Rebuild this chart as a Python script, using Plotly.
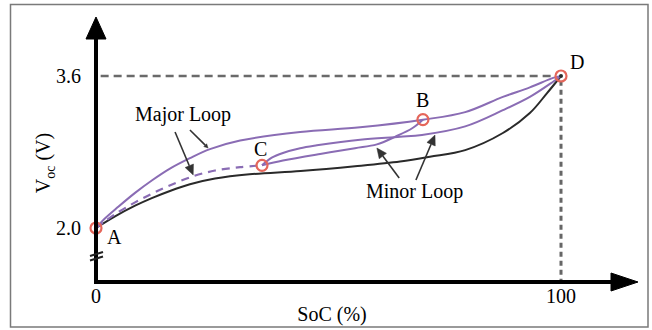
import math
import plotly.graph_objects as go

# ---------------- data (SoC in %, voltage in V) ----------------
black_soc = [0, 4, 8.4, 12, 15.9, 20.2, 25.6, 33, 44, 55.7, 65.4, 71.8, 79.4, 87.5, 93.3, 97, 100]
black_v = [2.00, 2.12, 2.235, 2.315, 2.39, 2.46, 2.52, 2.565, 2.60, 2.65, 2.70, 2.75, 2.82, 3.00, 3.21, 3.42, 3.60]

major_soc = [0, 1.9, 4.7, 8.4, 12, 15.9, 20.2, 24.5, 31, 43.9, 56.8, 70.3, 79.4, 87.5, 93.3, 98.3, 100]
major_v = [2.00, 2.10, 2.22, 2.37, 2.50, 2.625, 2.735, 2.83, 2.92, 3.01, 3.06, 3.14, 3.22, 3.38, 3.48, 3.58, 3.60]

dash_soc = [0, 4.1, 8.4, 12, 15.5, 20.6, 25.6, 31, 35.7]
dash_v = [2.00, 2.145, 2.27, 2.36, 2.44, 2.54, 2.605, 2.64, 2.66]

cd_soc = [35.7, 37.8, 40.2, 43.9, 47.5, 56.8, 65.4, 70.1, 79.4, 87.5, 93.3, 98.3, 100]
cd_v = [2.66, 2.74, 2.79, 2.84, 2.87, 2.93, 2.96, 2.98, 3.07, 3.24, 3.38, 3.54, 3.60]

cb_soc = [35.7, 40.2, 48.2, 55.7, 60.4, 64.3, 68, 70.3]
cb_v = [2.66, 2.71, 2.78, 2.84, 2.88, 2.96, 3.05, 3.14]

point_names = ["A", "B", "C", "D"]
point_soc = [0, 70.3, 35.7, 100]
point_v = [2.0, 3.14, 2.66, 3.6]

x_tick_vals = [0, 100]
x_tick_text = ["0", "100"]
y_tick_vals = [2.0, 3.6]
y_tick_text = ["2.0", "3.6"]

# ---------------- figure ----------------
W, H = 652, 330
ML, MR, MT, MB = 96, 84, 44, 48
PW, PH = W - ML - MR, H - MT - MB
XS, YS = 4.65, 95.0          # pixels per % SoC, pixels per volt
XR = [0, PW / XS]
YR = [2.0 - (MT + PH - 228) / YS, 2.0 + (228 - MT) / YS]


def px(xp):
    return (xp - ML) / PW


def py(yp):
    return (MT + PH - yp) / PH


FONT = "Liberation Serif"
PURPLE = "#8a6cb4"
DARK = "#2a2a2a"
RED = "#e5665a"

fig = go.Figure()

fig.add_trace(go.Scatter(x=black_soc, y=black_v, mode="lines",
                         line=dict(color=DARK, width=2, shape="spline"), hoverinfo="skip"))
fig.add_trace(go.Scatter(x=major_soc, y=major_v, mode="lines",
                         line=dict(color=PURPLE, width=2, shape="spline"), hoverinfo="skip"))
fig.add_trace(go.Scatter(x=dash_soc, y=dash_v, mode="lines",
                         line=dict(color=PURPLE, width=2.2, shape="spline", dash="8px,6px"),
                         hoverinfo="skip"))
fig.add_trace(go.Scatter(x=cd_soc, y=cd_v, mode="lines",
                         line=dict(color=PURPLE, width=2, shape="spline"), hoverinfo="skip"))
fig.add_trace(go.Scatter(x=cb_soc, y=cb_v, mode="lines",
                         line=dict(color=PURPLE, width=2, shape="spline"), hoverinfo="skip"))

# reference dashed lines (3.6 V level and 100 % SoC)
fig.add_trace(go.Scatter(x=[1, 98.5], y=[3.6, 3.6], mode="lines",
                         line=dict(color="#6a6a6a", width=2.5, dash="8px,5px"),
                         hoverinfo="skip", cliponaxis=False))
fig.add_trace(go.Scatter(x=[100, 100], y=[3.55, YR[0]], mode="lines",
                         line=dict(color="#666666", width=3, dash="5px,4px"),
                         hoverinfo="skip", cliponaxis=False))

# key points
fig.add_trace(go.Scatter(x=point_soc, y=point_v, mode="markers",
                         marker=dict(symbol="circle-open", size=11, color=RED,
                                     line=dict(width=2.2, color=RED)),
                         cliponaxis=False, hoverinfo="skip"))
fig.add_trace(go.Scatter(x=point_soc[3:], y=point_v[3:], mode="markers",
                         marker=dict(symbol="circle", size=4, color=DARK),
                         cliponaxis=False, hoverinfo="skip"))

shapes = []
# outer frame
shapes.append(dict(type="rect", xref="paper", yref="paper",
                   x0=px(10.5), x1=px(648), y0=py(4.5), y1=py(327),
                   line=dict(color="#7a7a7a", width=1.5)))
# axes
shapes.append(dict(type="line", xref="paper", yref="paper",
                   x0=px(96), x1=px(96), y0=py(284), y1=py(36),
                   line=dict(color="black", width=4)))
shapes.append(dict(type="line", xref="paper", yref="paper",
                   x0=px(94), x1=px(613), y0=py(282), y1=py(282),
                   line=dict(color="black", width=4)))
shapes.append(dict(type="path", xref="paper", yref="paper",
                   path=f"M {px(86)},{py(39)} L {px(106)},{py(39)} L {px(96)},{py(17)} Z",
                   fillcolor="black", line=dict(color="black", width=1)))
shapes.append(dict(type="path", xref="paper", yref="paper",
                   path=f"M {px(611)},{py(273)} L {px(611)},{py(291)} L {px(638)},{py(282)} Z",
                   fillcolor="black", line=dict(color="black", width=1)))
# axis break marks
shapes.append(dict(type="line", xref="paper", yref="paper",
                   x0=px(90), x1=px(103), y0=py(256), y1=py(252),
                   line=dict(color="#222", width=2)))
shapes.append(dict(type="line", xref="paper", yref="paper",
                   x0=px(90), x1=px(103), y0=py(260.5), y1=py(256.5),
                   line=dict(color="#222", width=2)))


def pointer(x0, y0, x1, y1, head_len=10.0, head_w=4.5, color="#333333"):
    """Line from (x0,y0) to the tip (x1,y1) in data units, with a filled head."""
    dxp, dyp = (x1 - x0) * XS, (y1 - y0) * YS
    L = math.hypot(dxp, dyp)
    ux, uy = dxp / L, dyp / L
    bx, by = x1 - ux * head_len / XS, y1 - uy * head_len / YS
    nx, ny = -uy * head_w, ux * head_w
    out = [dict(type="line", xref="x", yref="y", x0=x0, y0=y0, x1=bx, y1=by,
                line=dict(color=color, width=1.6))]
    if head_len > 0:
        out.append(dict(type="path", xref="x", yref="y",
                        path=(f"M {x1},{y1} L {bx + nx / XS},{by + ny / YS} "
                              f"L {bx - nx / XS},{by - ny / YS} Z"),
                        fillcolor=color, line=dict(color=color, width=0.5)))
    return out


# Major loop pointers
shapes += pointer(17.0, 3.011, 20.9, 2.558)
shapes += pointer(20.2, 3.032, 24.1, 2.842, head_len=4, head_w=2)
# Minor loop pointers
shapes += pointer(65.2, 2.526, 60.4, 2.842)
shapes += pointer(68.8, 2.505, 72.9, 2.979)

annotations = []
tf = dict(family=FONT, size=20, color="black")
# point labels, offset in pixels from the points
label_shift = {"A": (18, -9), "B": (0, 20), "C": (-2, 16), "D": (16, 14)}
for name, xs, ys in zip(point_names, point_soc, point_v):
    dx, dy = label_shift[name]
    annotations.append(dict(x=xs, y=ys, xref="x", yref="y", text=name,
                            xshift=dx, yshift=dy, showarrow=False, font=tf))

annotations.append(dict(x=18.8, y=3.2, xref="x", yref="y", text="Major Loop",
                        showarrow=False, font=tf))
annotations.append(dict(x=68.6, y=2.38, xref="x", yref="y", text="Minor Loop",
                        showarrow=False, font=tf))

y_title = ("V<span style='font-size:14px;baseline-shift:-5px'>oc</span> (V)")

fig.update_layout(
    width=W, height=H,
    margin=dict(l=ML, r=MR, t=MT, b=MB, pad=0),
    paper_bgcolor="white", plot_bgcolor="white",
    showlegend=False,
    font=dict(family=FONT, size=20, color="black"),
    shapes=shapes,
    annotations=annotations,
    xaxis=dict(range=XR, showgrid=False, zeroline=False, showline=False,
               tickvals=x_tick_vals, ticktext=x_tick_text,
               ticks="", tickfont=tf, fixedrange=True, automargin=False,
               title=dict(text="SoC (%)", font=tf, standoff=0)),
    yaxis=dict(range=YR, showgrid=False, zeroline=False, showline=False,
               tickvals=y_tick_vals, ticktext=y_tick_text,
               ticks="outside", ticklen=10, tickcolor="rgba(0,0,0,0)",
               tickfont=tf, fixedrange=True, automargin=False,
               title=dict(text=y_title, font=tf, standoff=0)),
)

fig.write_html("out.html", config={"displayModeBar": False},
               post_script="document.body.style.margin='0px';document.body.style.overflow='hidden';")
